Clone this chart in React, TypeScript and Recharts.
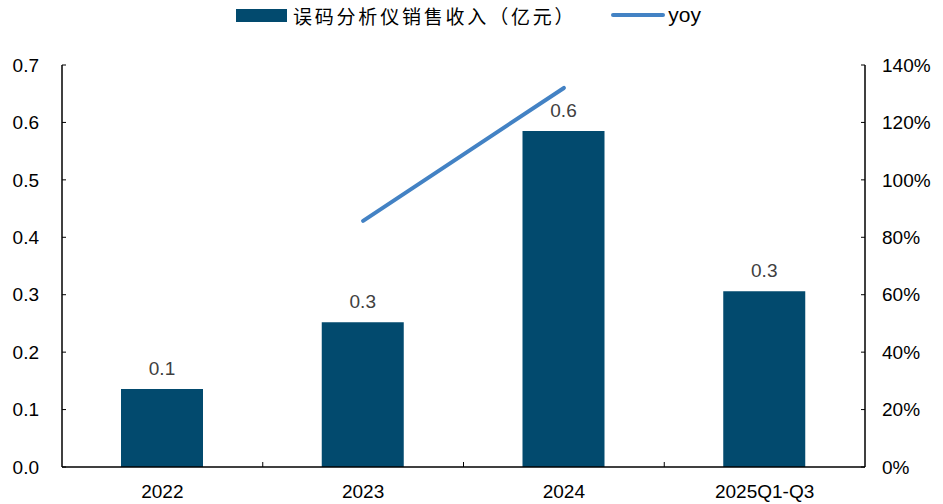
import React from 'react';
import { ComposedChart, Bar, Line, XAxis, YAxis, Legend, LabelList } from 'recharts';

const categories = ['2022', '2023', '2024', '2025Q1-Q3'];
const revenue = [0.136, 0.252, 0.585, 0.306];
const yoy: (number | null)[] = [null, 0.857, 1.32, null];
const leftTicks = [0, 0.1, 0.2, 0.3, 0.4, 0.5, 0.6, 0.7];
const rightTicks = [0, 0.2, 0.4, 0.6, 0.8, 1.0, 1.2, 1.4];
const xTicks = [0.5, 1, 1.5, 2, 2.5, 3, 3.5];
const revenueName = '误码分析仪销售收入（亿元）';
const yoyName = 'yoy';

const data = categories.map((c, i) => ({ x: i + 0.5, year: c, revenue: revenue[i], yoy: yoy[i] }));

const BAR = '#024a6e';
const LINE = '#4382c4';
const FONT = '"Liberation Sans", Arial, sans-serif';

const LegendContent = () => (
  <div style={{ display: 'flex', alignItems: 'center', justifyContent: 'center', fontFamily: FONT, height: 30 }}>
    <span style={{ display: 'inline-block', width: 51, height: 13, background: BAR, marginRight: 6 }} />
    <span style={{ fontFamily: '"Noto Sans CJK SC", sans-serif', fontSize: 19, letterSpacing: 2.8, color: '#000' }}>{revenueName}</span>
    <span style={{ display: 'inline-block', width: 54, height: 4, borderRadius: 2, background: LINE, marginLeft: 35, marginRight: 3 }} />
    <span style={{ fontSize: 21, color: '#000' }}>{yoyName}</span>
  </div>
);

const XTick = (props: any) => {
  const { x, y, payload } = props;
  const v = payload.value as number;
  if (Number.isInteger(v)) {
    return <line x1={x} x2={x} y1={y} y2={y - 5} stroke="#000" strokeWidth={1} />;
  }
  return (
    <text x={x} y={y + 31} textAnchor="middle" fill="#000" fontSize={19} fontFamily={FONT}>
      {categories[Math.floor(v)]}
    </text>
  );
};

export default function App() {
  return (
    <div style={{ position: 'absolute', left: 0, top: 0, background: '#fff' }}>
      <ComposedChart width={943} height={504} data={data} margin={{ top: 65, right: 0, bottom: 0, left: 0 }}>
        <Legend verticalAlign="middle" content={<LegendContent />} wrapperStyle={{ top: 0, left: -3, width: 943 }} />
        <XAxis dataKey="x" type="number" domain={[0, 4]} ticks={xTicks} height={37} tickLine={false} tickSize={0}
          tickMargin={0} axisLine={{ stroke: '#000', strokeWidth: 1.5 }} tick={<XTick />} interval={0} allowDataOverflow />
        <YAxis yAxisId="left" orientation="left" width={62} domain={[0, 0.7]} ticks={leftTicks}
          tickLine={{ stroke: '#000' }} tickSize={-4}
          axisLine={{ stroke: '#000', strokeWidth: 1.5 }} tick={{ fill: '#000', fontSize: 19, fontFamily: FONT }}
          tickMargin={27} tickFormatter={(v: number) => v.toFixed(1)} />
        <YAxis yAxisId="right" orientation="right" width={78} domain={[0, 1.4]} ticks={rightTicks}
          tickLine={{ stroke: '#000' }} tickSize={-4}
          axisLine={{ stroke: '#000', strokeWidth: 1.5 }} tick={{ fill: '#000', fontSize: 19, fontFamily: FONT, textAnchor: 'start' }}
          tickMargin={21} tickFormatter={(v: number) => `${Math.round(v * 100)}%`} />
        <Bar yAxisId="left" dataKey="revenue" name={revenueName} fill={BAR} barSize={82} isAnimationActive={false}>
          <LabelList dataKey="revenue" position="top" offset={14} fill="#404040" fontSize={19} fontFamily={FONT}
            formatter={(v: number) => v.toFixed(1)} />
        </Bar>
        <Line yAxisId="right" dataKey="yoy" name={yoyName} stroke={LINE} strokeWidth={4} dot={false}
          activeDot={false} strokeLinecap="round" isAnimationActive={false} connectNulls={false} />
      </ComposedChart>
    </div>
  );
}
